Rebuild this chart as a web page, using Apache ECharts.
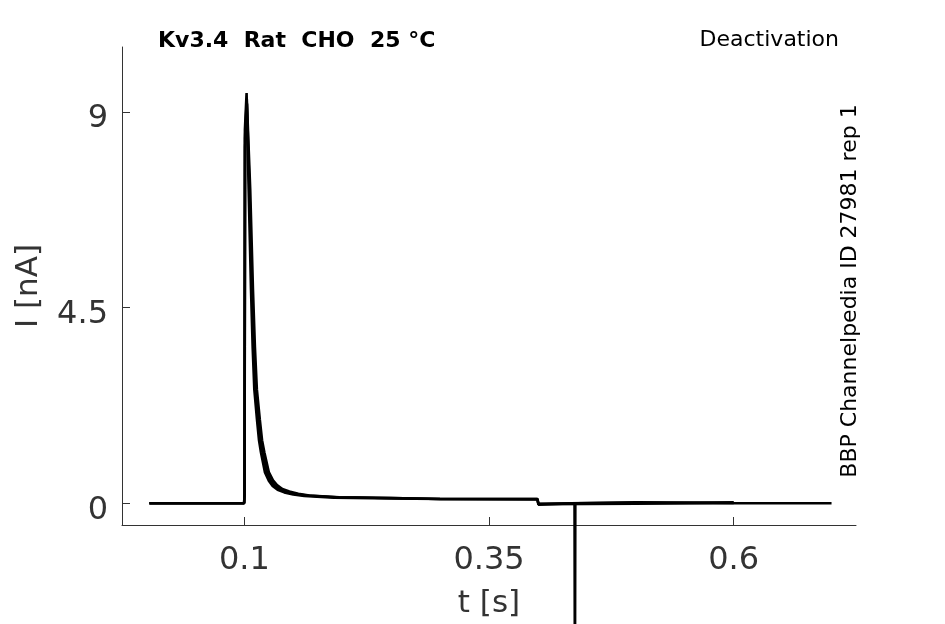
<!DOCTYPE html>
<html>
<head>
<meta charset="utf-8">
<script src="https://cdn.jsdelivr.net/npm/echarts@6/dist/echarts.min.js"></script>
<style>
  html, body { margin: 0; padding: 0; background: #fff; }
  #chart1 { width: 945px; height: 624px; }
</style>
</head>
<body>
<div id="chart1"></div>
<script>
// Deactivation sweeps, time in s, current in nA
const sweep1Time = [0.003, 0.06, 0.061, 0.062, 0.0998, 0.1002, 0.1006, 0.1023, 0.1044, 0.1068, 0.1085, 0.1102, 0.1129, 0.115, 0.117, 0.1211, 0.125, 0.1289, 0.134, 0.1408, 0.15, 0.1612, 0.1918, 0.25, 0.3, 0.3995, 0.4005, 0.4374, 0.4378, 0.4382, 0.5, 0.6, 0.7];
const sweep1Current = [0, 0, -0.03, 0, 0, 0.2, 8.6, 9.44, 7.23, 4.93, 3.6, 2.62, 1.93, 1.45, 1.17, 0.71, 0.52, 0.4, 0.31, 0.25, 0.2, 0.17, 0.13, 0.11, 0.1, 0.09, -0.03, 0, -4.5, 0, 0.01, 0, 0];

const sweep2Time = [0.003, 0.0998, 0.1002, 0.1007, 0.1025, 0.1052, 0.1078, 0.1097, 0.1115, 0.1144, 0.1166, 0.1188, 0.1231, 0.1272, 0.1312, 0.1364, 0.1433, 0.1525, 0.1638, 0.194, 0.25, 0.3, 0.3995, 0.4005, 0.5, 0.6];
const sweep2Current = [0, 0, 0.2, 8.4, 9.3, 7.23, 4.93, 3.6, 2.62, 1.93, 1.45, 1.17, 0.71, 0.52, 0.41, 0.32, 0.26, 0.21, 0.18, 0.14, 0.12, 0.1, 0.1, -0.01, 0.02, 0.01];

const sweep3Time = [0.003, 0.0998, 0.1002, 0.1008, 0.1027, 0.106, 0.1088, 0.1108, 0.1128, 0.1158, 0.1181, 0.1205, 0.125, 0.1293, 0.1334, 0.1388, 0.146, 0.1552, 0.1665, 0.197, 0.25, 0.3, 0.3995, 0.4005, 0.5, 0.6];
const sweep3Current = [0, 0, 0.2, 8.2, 9.2, 7.23, 4.93, 3.6, 2.62, 1.93, 1.45, 1.17, 0.72, 0.53, 0.42, 0.33, 0.27, 0.22, 0.18, 0.14, 0.12, 0.1, 0.1, -0.02, -0.01, 0.02];

const xTicks = [0.1, 0.35, 0.6];
const yTicks = [0, 4.5, 9];

const chartTitle = 'Kv3.4  Rat  CHO  25 °C';
const protocolName = 'Deactivation';
const sourceLabel = 'BBP Channelpedia ID 27981 rep 1';

const chartDom = document.getElementById('chart1');
const myChart = echarts.init(chartDom);

const pairs = (t, v) => t.map((x, i) => [x, v[i]]);

const sweepSeries = [
    pairs(sweep1Time, sweep1Current),
    pairs(sweep2Time, sweep2Current),
    pairs(sweep3Time, sweep3Current)
].map(data => ({
    type: 'line',
    data: data,
    showSymbol: false,
    symbol: 'none',
    clip: false,
    lineStyle: { color: '#000', width: 2.6 },
    silent: true
}));

const font = 'DejaVu Sans';
const axisColor = '#333';

const option = {
    animation: false,
    backgroundColor: '#fff',
    grid: { left: 122, right: 89, top: 47, bottom: 98 },
    xAxis: {
        type: 'value',
        min: -0.025,
        max: 0.725,
        name: 't [s]',
        nameLocation: 'middle',
        nameGap: 63,
        nameTextStyle: { fontFamily: font, fontSize: 31, color: '#333' },
        axisLine: { onZero: false, lineStyle: { color: axisColor, width: 1 } },
        axisTick: { show: true, inside: true, length: 8, customValues: xTicks, lineStyle: { color: axisColor } },
        axisLabel: { customValues: xTicks, margin: 20, fontFamily: font, fontSize: 32, color: '#333' },
        splitLine: { show: false }
    },
    yAxis: {
        type: 'value',
        min: -0.5,
        max: 10.5,
        name: 'I [nA]',
        nameLocation: 'middle',
        nameGap: 78,
        nameTextStyle: { fontFamily: font, fontSize: 31, color: '#333' },
        axisLine: { show: true, onZero: false, lineStyle: { color: axisColor, width: 1 } },
        axisTick: { show: true, inside: true, length: 8, customValues: yTicks, lineStyle: { color: axisColor } },
        axisLabel: {
            customValues: yTicks,
            margin: 14,
            formatter: v => '{v|' + v + '}',
            rich: { v: { fontFamily: font, fontSize: 32, color: '#333', padding: [14, 0, 0, 0] } }
        },
        splitLine: { show: false }
    },
    graphic: [
        {
            type: 'text', left: 158, top: 30,
            style: { text: chartTitle, font: 'bold 22px "DejaVu Sans"', fill: '#000' }
        },
        {
            type: 'text', right: 106, top: 29,
            style: { text: protocolName, font: '22px "DejaVu Sans"', fill: '#000' }
        },
        {
            type: 'text', x: 850, y: 291, rotation: Math.PI / 2,
            style: { text: sourceLabel, font: '22px "DejaVu Sans"', fill: '#000', align: 'center', verticalAlign: 'middle' }
        }
    ],
    series: sweepSeries
};

myChart.setOption(option);
</script>
</body>
</html>
